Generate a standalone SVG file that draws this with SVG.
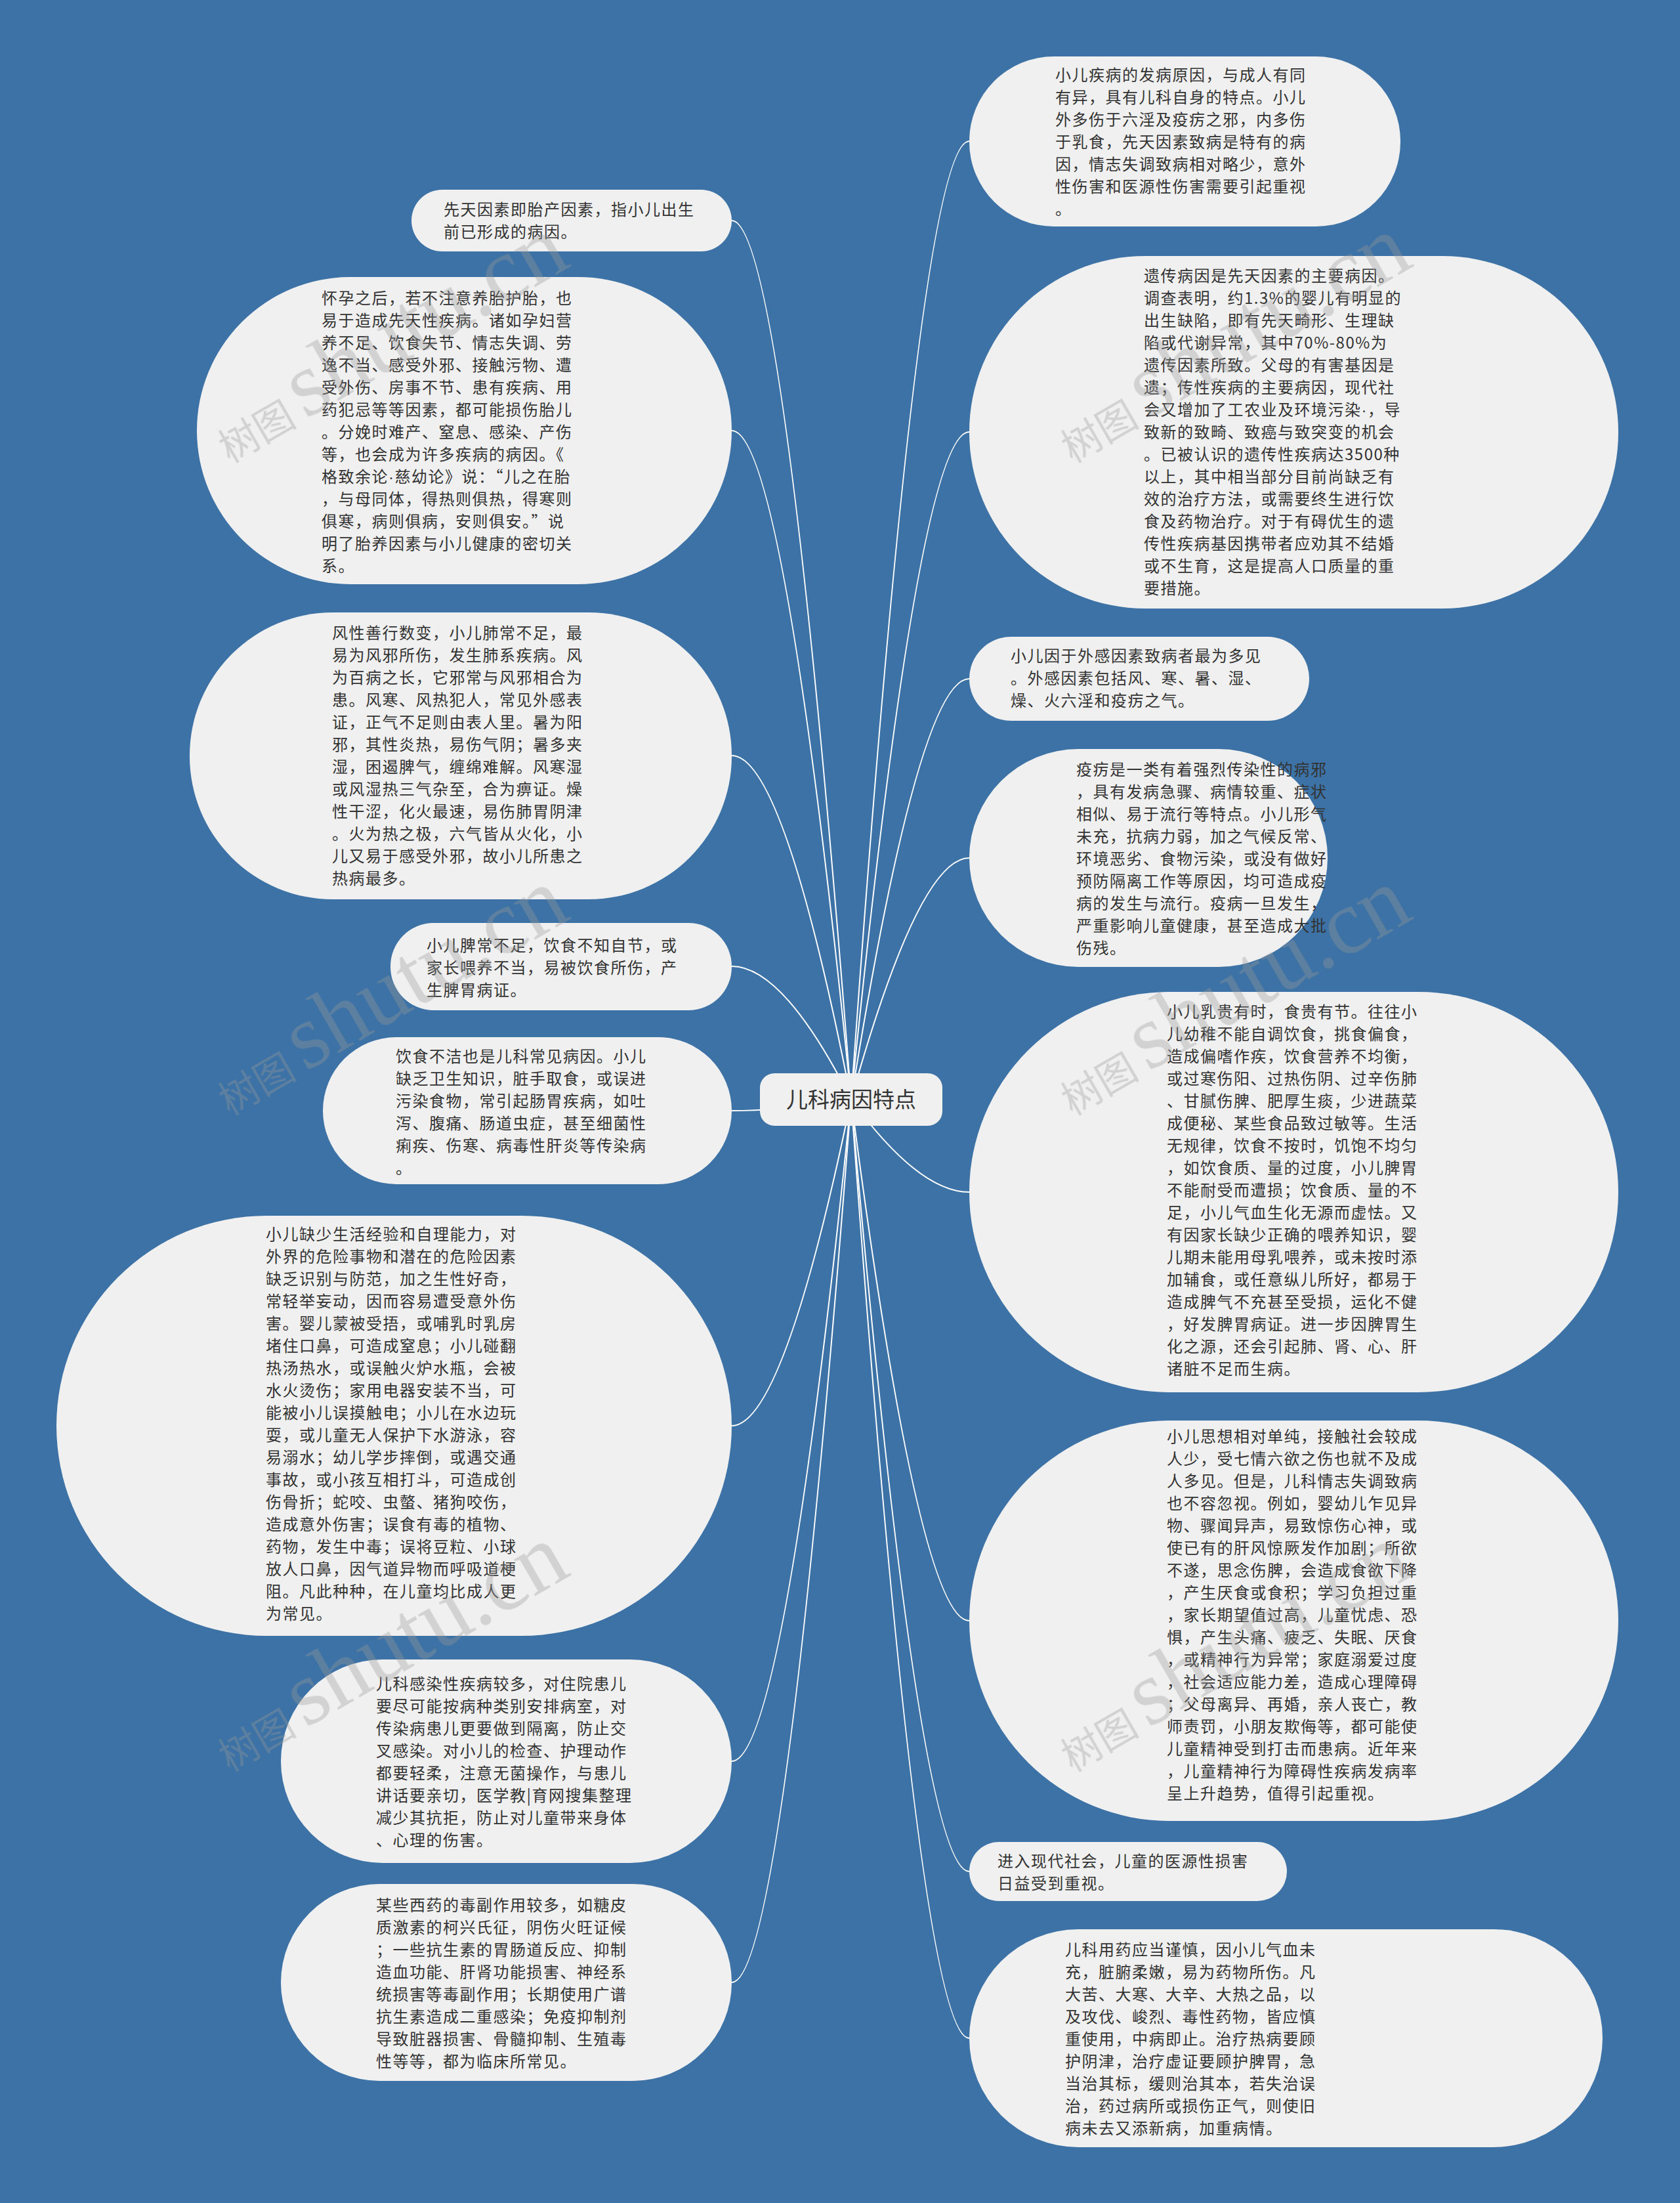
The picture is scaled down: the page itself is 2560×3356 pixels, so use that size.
<svg xmlns="http://www.w3.org/2000/svg" width="2560" height="3356" viewBox="0 0 2560 3356">
<style>
.node rect{fill:#f0f0f0;}
.t{font-family:"Noto Sans CJK SC","Noto Sans",sans-serif;font-size:24px;letter-spacing:1.5px;fill:#333333;}
.dot{font-family:"Liberation Sans",sans-serif;}
.conn path{fill:none;stroke:#ffffff;stroke-width:2;}
.wm{fill:#9a9a9a;opacity:0.35;}
.wmc{font-family:"Noto Sans CJK SC",sans-serif;font-size:60px;}
.wml{font-family:"Liberation Serif",serif;font-size:140px;}
</style>
<rect x="0" y="0" width="2560" height="3356" fill="#3c72a5"/>
<g id="connectors" class="conn">
<path d="M1297,1675 Q1194,336 1115,336"/>
<path d="M1297,1675 Q1194,656 1115,656"/>
<path d="M1297,1675 Q1194,1151 1115,1151"/>
<path d="M1297,1675 Q1194,1472 1115,1472"/>
<path d="M1297,1675 Q1194,1692 1115,1692"/>
<path d="M1297,1675 Q1194,2172 1115,2172"/>
<path d="M1297,1675 Q1194,2683 1115,2683"/>
<path d="M1297,1675 Q1194,3020 1115,3020"/>
<path d="M1297,1675 Q1400,215 1477,215"/>
<path d="M1297,1675 Q1400,658 1477,658"/>
<path d="M1297,1675 Q1400,1034 1477,1034"/>
<path d="M1297,1675 Q1400,1307 1477,1307"/>
<path d="M1297,1675 Q1400,1816 1477,1816"/>
<path d="M1297,1675 Q1400,2469 1477,2469"/>
<path d="M1297,1675 Q1400,2851 1477,2851"/>
<path d="M1297,1675 Q1400,3105 1477,3105"/>
</g>
<g id="center" class="node">
<rect x="1158" y="1635" width="278" height="80" rx="22"/>
<text x="1297" y="1687" text-anchor="middle" style="font-family:'Noto Sans CJK SC',sans-serif;font-size:33px;fill:#333333;">儿科病因特点</text>
</g>
<g id="n1" class="node"><rect x="627" y="289" width="488" height="94" rx="47"/>
<text class="t" y="328"><tspan x="676">先天因素即胎产因素，指小儿出生</tspan><tspan x="676" dy="34">前已形成的病因。</tspan></text></g>
<g id="n2" class="node"><rect x="300" y="422" width="815" height="468" rx="234"/>
<text class="t" y="463"><tspan x="490">怀孕之后，若不注意养胎护胎，也</tspan><tspan x="490" dy="34">易于造成先天性疾病。诸如孕妇营</tspan><tspan x="490" dy="34">养不足、饮食失节、情志失调、劳</tspan><tspan x="490" dy="34">逸不当、感受外邪、接触污物、遭</tspan><tspan x="490" dy="34">受外伤、房事不节、患有疾病、用</tspan><tspan x="490" dy="34">药犯忌等等因素，都可能损伤胎儿</tspan><tspan x="490" dy="34">。分娩时难产、窒息、感染、产伤</tspan><tspan x="490" dy="34">等，也会成为许多疾病的病因。《</tspan><tspan x="490" dy="34">格致余论<tspan class="dot">·</tspan>慈幼论》说：“儿之在胎</tspan><tspan x="490" dy="34">，与母同体，得热则俱热，得寒则</tspan><tspan x="490" dy="34">俱寒，病则俱病，安则俱安。”说</tspan><tspan x="490" dy="34">明了胎养因素与小儿健康的密切关</tspan><tspan x="490" dy="34">系。</tspan></text></g>
<g id="n3" class="node"><rect x="289" y="933" width="826" height="437" rx="218"/>
<text class="t" y="973"><tspan x="506">风性善行数变，小儿肺常不足，最</tspan><tspan x="506" dy="34">易为风邪所伤，发生肺系疾病。风</tspan><tspan x="506" dy="34">为百病之长，它邪常与风邪相合为</tspan><tspan x="506" dy="34">患。风寒、风热犯人，常见外感表</tspan><tspan x="506" dy="34">证，正气不足则由表人里。暑为阳</tspan><tspan x="506" dy="34">邪，其性炎热，易伤气阴；暑多夹</tspan><tspan x="506" dy="34">湿，困遏脾气，缠绵难解。风寒湿</tspan><tspan x="506" dy="34">或风湿热三气杂至，合为痹证。燥</tspan><tspan x="506" dy="34">性干涩，化火最速，易伤肺胃阴津</tspan><tspan x="506" dy="34">。火为热之极，六气皆从火化，小</tspan><tspan x="506" dy="34">儿又易于感受外邪，故小儿所患之</tspan><tspan x="506" dy="34">热病最多。</tspan></text></g>
<g id="n4" class="node"><rect x="595" y="1406" width="520" height="133" rx="66"/>
<text class="t" y="1449"><tspan x="650">小儿脾常不足，饮食不知自节，或</tspan><tspan x="650" dy="34">家长喂养不当，易被饮食所伤，产</tspan><tspan x="650" dy="34">生脾胃病证。</tspan></text></g>
<g id="n5" class="node"><rect x="492" y="1580" width="623" height="224" rx="112"/>
<text class="t" y="1618"><tspan x="603">饮食不洁也是儿科常见病因。小儿</tspan><tspan x="603" dy="34">缺乏卫生知识，脏手取食，或误进</tspan><tspan x="603" dy="34">污染食物，常引起肠胃疾病，如吐</tspan><tspan x="603" dy="34">泻、腹痛、肠道虫症，甚至细菌性</tspan><tspan x="603" dy="34">痢疾、伤寒、病毒性肝炎等传染病</tspan><tspan x="603" dy="34">。</tspan></text></g>
<g id="n6" class="node"><rect x="86" y="1852" width="1029" height="640" rx="320"/>
<text class="t" y="1889"><tspan x="405">小儿缺少生活经验和自理能力，对</tspan><tspan x="405" dy="34">外界的危险事物和潜在的危险因素</tspan><tspan x="405" dy="34">缺乏识别与防范，加之生性好奇，</tspan><tspan x="405" dy="34">常轻举妄动，因而容易遭受意外伤</tspan><tspan x="405" dy="34">害。婴儿蒙被受捂，或哺乳时乳房</tspan><tspan x="405" dy="34">堵住口鼻，可造成窒息；小儿碰翻</tspan><tspan x="405" dy="34">热汤热水，或误触火炉水瓶，会被</tspan><tspan x="405" dy="34">水火烫伤；家用电器安装不当，可</tspan><tspan x="405" dy="34">能被小儿误摸触电；小儿在水边玩</tspan><tspan x="405" dy="34">耍，或儿童无人保护下水游泳，容</tspan><tspan x="405" dy="34">易溺水；幼儿学步摔倒，或遇交通</tspan><tspan x="405" dy="34">事故，或小孩互相打斗，可造成创</tspan><tspan x="405" dy="34">伤骨折；蛇咬、虫螫、猪狗咬伤，</tspan><tspan x="405" dy="34">造成意外伤害；误食有毒的植物、</tspan><tspan x="405" dy="34">药物，发生中毒；误将豆粒、小球</tspan><tspan x="405" dy="34">放人口鼻，因气道异物而呼吸道梗</tspan><tspan x="405" dy="34">阻。凡此种种，在儿童均比成人更</tspan><tspan x="405" dy="34">为常见。</tspan></text></g>
<g id="n7" class="node"><rect x="428" y="2528" width="687" height="310" rx="155"/>
<text class="t" y="2574"><tspan x="573">儿科感染性疾病较多，对住院患儿</tspan><tspan x="573" dy="34">要尽可能按病种类别安排病室，对</tspan><tspan x="573" dy="34">传染病患儿更要做到隔离，防止交</tspan><tspan x="573" dy="34">叉感染。对小儿的检查、护理动作</tspan><tspan x="573" dy="34">都要轻柔，注意无菌操作，与患儿</tspan><tspan x="573" dy="34">讲话要亲切，医学教|育网搜集整理</tspan><tspan x="573" dy="34">减少其抗拒，防止对儿童带来身体</tspan><tspan x="573" dy="34">、心理的伤害。</tspan></text></g>
<g id="n8" class="node"><rect x="428" y="2870" width="687" height="300" rx="150"/>
<text class="t" y="2911"><tspan x="573">某些西药的毒副作用较多，如糖皮</tspan><tspan x="573" dy="34">质激素的柯兴氏征，阴伤火旺证候</tspan><tspan x="573" dy="34">；一些抗生素的胃肠道反应、抑制</tspan><tspan x="573" dy="34">造血功能、肝肾功能损害、神经系</tspan><tspan x="573" dy="34">统损害等毒副作用；长期使用广谱</tspan><tspan x="573" dy="34">抗生素造成二重感染；免疫抑制剂</tspan><tspan x="573" dy="34">导致脏器损害、骨髓抑制、生殖毒</tspan><tspan x="573" dy="34">性等等，都为临床所常见。</tspan></text></g>
<g id="n9" class="node"><rect x="1477" y="86" width="657" height="259" rx="129"/>
<text class="t" y="123"><tspan x="1608">小儿疾病的发病原因，与成人有同</tspan><tspan x="1608" dy="34">有异，具有儿科自身的特点。小儿</tspan><tspan x="1608" dy="34">外多伤于六淫及疫疠之邪，内多伤</tspan><tspan x="1608" dy="34">于乳食，先天因素致病是特有的病</tspan><tspan x="1608" dy="34">因，情志失调致病相对略少，意外</tspan><tspan x="1608" dy="34">性伤害和医源性伤害需要引起重视</tspan><tspan x="1608" dy="34">。</tspan></text></g>
<g id="n10" class="node"><rect x="1477" y="390" width="989" height="537" rx="268"/>
<text class="t" y="429"><tspan x="1743">遗传病因是先天因素的主要病因。</tspan><tspan x="1743" dy="34">调查表明，约1.3%的婴儿有明显的</tspan><tspan x="1743" dy="34">出生缺陷，即有先天畸形、生理缺</tspan><tspan x="1743" dy="34">陷或代谢异常，其中70%-80%为</tspan><tspan x="1743" dy="34">遗传因素所致。父母的有害基因是</tspan><tspan x="1743" dy="34">遗；传性疾病的主要病因，现代社</tspan><tspan x="1743" dy="34">会又增加了工农业及环境污染<tspan class="dot">·</tspan>，导</tspan><tspan x="1743" dy="34">致新的致畸、致癌与致突变的机会</tspan><tspan x="1743" dy="34">。已被认识的遗传性疾病达3500种</tspan><tspan x="1743" dy="34">以上，其中相当部分目前尚缺乏有</tspan><tspan x="1743" dy="34">效的治疗方法，或需要终生进行饮</tspan><tspan x="1743" dy="34">食及药物治疗。对于有碍优生的遗</tspan><tspan x="1743" dy="34">传性疾病基因携带者应劝其不结婚</tspan><tspan x="1743" dy="34">或不生育，这是提高人口质量的重</tspan><tspan x="1743" dy="34">要措施。</tspan></text></g>
<g id="n11" class="node"><rect x="1477" y="970" width="518" height="128" rx="64"/>
<text class="t" y="1008"><tspan x="1540">小儿因于外感因素致病者最为多见</tspan><tspan x="1540" dy="34">。外感因素包括风、寒、暑、湿、</tspan><tspan x="1540" dy="34">燥、火六淫和疫疠之气。</tspan></text></g>
<g id="n12" class="node"><rect x="1477" y="1141" width="546" height="332" rx="166"/>
<text class="t" y="1181"><tspan x="1640">疫疠是一类有着强烈传染性的病邪</tspan><tspan x="1640" dy="34">，具有发病急骤、病情较重、症状</tspan><tspan x="1640" dy="34">相似、易于流行等特点。小儿形气</tspan><tspan x="1640" dy="34">未充，抗病力弱，加之气候反常、</tspan><tspan x="1640" dy="34">环境恶劣、食物污染，或没有做好</tspan><tspan x="1640" dy="34">预防隔离工作等原因，均可造成疫</tspan><tspan x="1640" dy="34">病的发生与流行。疫病一旦发生，</tspan><tspan x="1640" dy="34">严重影响儿童健康，甚至造成大批</tspan><tspan x="1640" dy="34">伤残。</tspan></text></g>
<g id="n13" class="node"><rect x="1477" y="1511" width="989" height="610" rx="305"/>
<text class="t" y="1550"><tspan x="1778">小儿乳贵有时，食贵有节。往往小</tspan><tspan x="1778" dy="34">儿幼稚不能自调饮食，挑食偏食，</tspan><tspan x="1778" dy="34">造成偏嗜作疾，饮食营养不均衡，</tspan><tspan x="1778" dy="34">或过寒伤阳、过热伤阴、过辛伤肺</tspan><tspan x="1778" dy="34">、甘腻伤脾、肥厚生痰，少进蔬菜</tspan><tspan x="1778" dy="34">成便秘、某些食品致过敏等。生活</tspan><tspan x="1778" dy="34">无规律，饮食不按时，饥饱不均匀</tspan><tspan x="1778" dy="34">，如饮食质、量的过度，小儿脾胃</tspan><tspan x="1778" dy="34">不能耐受而遭损；饮食质、量的不</tspan><tspan x="1778" dy="34">足，小儿气血生化无源而虚怯。又</tspan><tspan x="1778" dy="34">有因家长缺少正确的喂养知识，婴</tspan><tspan x="1778" dy="34">儿期未能用母乳喂养，或未按时添</tspan><tspan x="1778" dy="34">加辅食，或任意纵儿所好，都易于</tspan><tspan x="1778" dy="34">造成脾气不充甚至受损，运化不健</tspan><tspan x="1778" dy="34">，好发脾胃病证。进一步因脾胃生</tspan><tspan x="1778" dy="34">化之源，还会引起肺、肾、心、肝</tspan><tspan x="1778" dy="34">诸脏不足而生病。</tspan></text></g>
<g id="n14" class="node"><rect x="1477" y="2164" width="989" height="610" rx="305"/>
<text class="t" y="2197"><tspan x="1778">小儿思想相对单纯，接触社会较成</tspan><tspan x="1778" dy="34">人少，受七情六欲之伤也就不及成</tspan><tspan x="1778" dy="34">人多见。但是，儿科情志失调致病</tspan><tspan x="1778" dy="34">也不容忽视。例如，婴幼儿乍见异</tspan><tspan x="1778" dy="34">物、骤闻异声，易致惊伤心神，或</tspan><tspan x="1778" dy="34">使已有的肝风惊厥发作加剧；所欲</tspan><tspan x="1778" dy="34">不遂，思念伤脾，会造成食欲下降</tspan><tspan x="1778" dy="34">，产生厌食或食积；学习负担过重</tspan><tspan x="1778" dy="34">，家长期望值过高，儿童忧虑、恐</tspan><tspan x="1778" dy="34">惧，产生头痛、疲乏、失眠、厌食</tspan><tspan x="1778" dy="34">，或精神行为异常；家庭溺爱过度</tspan><tspan x="1778" dy="34">，社会适应能力差，造成心理障碍</tspan><tspan x="1778" dy="34">；父母离异、再婚，亲人丧亡，教</tspan><tspan x="1778" dy="34">师责罚，小朋友欺侮等，都可能使</tspan><tspan x="1778" dy="34">儿童精神受到打击而患病。近年来</tspan><tspan x="1778" dy="34">，儿童精神行为障碍性疾病发病率</tspan><tspan x="1778" dy="34">呈上升趋势，值得引起重视。</tspan></text></g>
<g id="n15" class="node"><rect x="1477" y="2806" width="484" height="90" rx="45"/>
<text class="t" y="2844"><tspan x="1520">进入现代社会，儿童的医源性损害</tspan><tspan x="1520" dy="34">日益受到重视。</tspan></text></g>
<g id="n16" class="node"><rect x="1477" y="2939" width="965" height="332" rx="166"/>
<text class="t" y="2979"><tspan x="1623">儿科用药应当谨慎，因小儿气血未</tspan><tspan x="1623" dy="34">充，脏腑柔嫩，易为药物所伤。凡</tspan><tspan x="1623" dy="34">大苦、大寒、大辛、大热之品，以</tspan><tspan x="1623" dy="34">及攻伐、峻烈、毒性药物，皆应慎</tspan><tspan x="1623" dy="34">重使用，中病即止。治疗热病要顾</tspan><tspan x="1623" dy="34">护阴津，治疗虚证要顾护脾胃，急</tspan><tspan x="1623" dy="34">当治其标，缓则治其本，若失治误</tspan><tspan x="1623" dy="34">治，药过病所或损伤正气，则使旧</tspan><tspan x="1623" dy="34">病未去又添新病，加重病情。</tspan></text></g>
<g id="watermarks" class="wm">
<text transform="translate(350,706) rotate(-30)"><tspan class="wmc">树图 </tspan><tspan class="wml">shutu.cn</tspan></text>
<text transform="translate(1634,706) rotate(-30)"><tspan class="wmc">树图 </tspan><tspan class="wml">shutu.cn</tspan></text>
<text transform="translate(350,1700) rotate(-30)"><tspan class="wmc">树图 </tspan><tspan class="wml">shutu.cn</tspan></text>
<text transform="translate(1634,1700) rotate(-30)"><tspan class="wmc">树图 </tspan><tspan class="wml">shutu.cn</tspan></text>
<text transform="translate(350,2700) rotate(-30)"><tspan class="wmc">树图 </tspan><tspan class="wml">shutu.cn</tspan></text>
<text transform="translate(1634,2700) rotate(-30)"><tspan class="wmc">树图 </tspan><tspan class="wml">shutu.cn</tspan></text>
</g>
</svg>
